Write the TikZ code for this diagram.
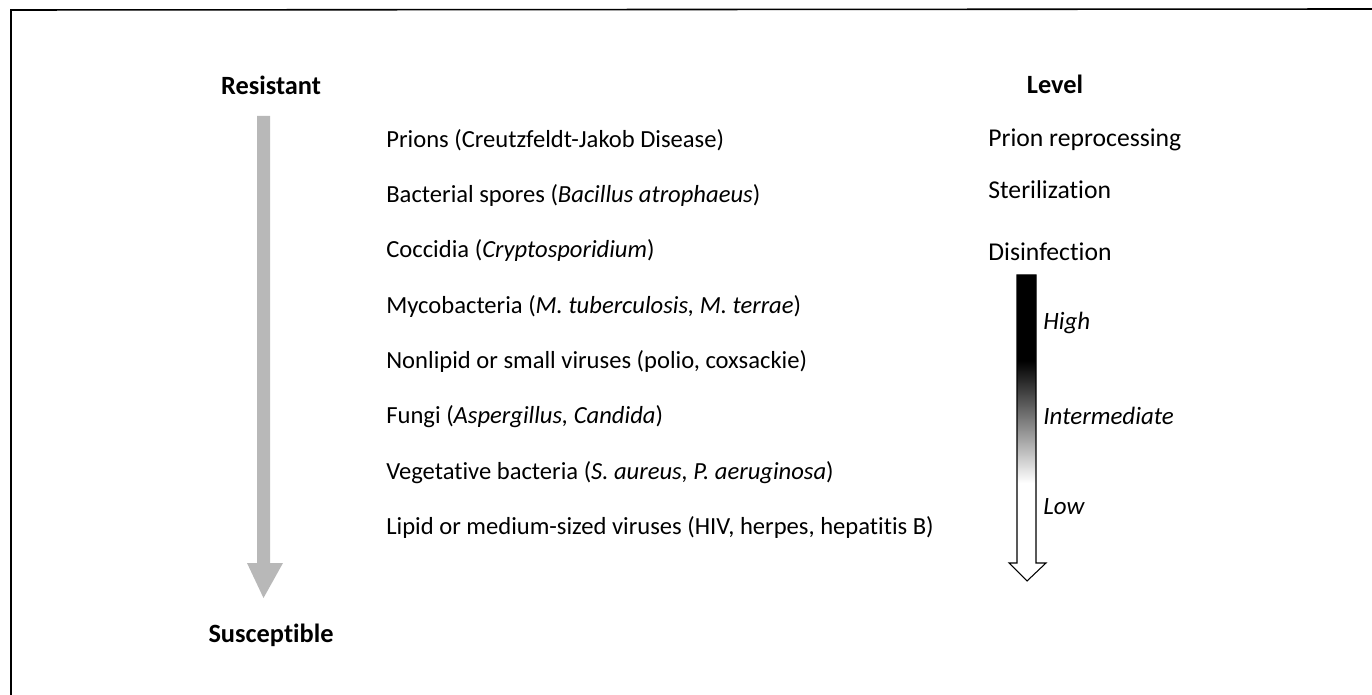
\documentclass[tikz,border=0pt]{standalone}
\usepackage{fontspec}
\setmainfont{Carlito}[Ligatures=NoCommon]
\usetikzlibrary{positioning}
\pgfdeclareverticalshading{levelshade}{100bp}{color(0bp)=(white); color(41bp)=(white);
  color(51bp)=(black!50); color(61bp)=(black); color(100bp)=(black)}

\begin{document}
\begin{tikzpicture}[x=0.02cm, y=-0.02cm,
  head/.style={font=\fontsize{15}{17}\selectfont\bfseries},
  item/.style={anchor=west, inner sep=0pt, font=\fontsize{14}{16}\selectfont},
  lvl/.style={anchor=west, inner sep=0pt, font=\fontsize{14.2}{16}\selectfont\itshape},
  grayarr/.style={fill=black!28, draw=none},
  levelarr/.style={draw=black, line width=0.6pt, shading=levelshade}
]
\useasboundingbox (0,0) rectangle (1372,695);
\draw[line width=0.9pt] (11,695) -- (11,10) -- (1372,9);

% resistance scale
\node[head] (res) at (271,85)  {Resistant};
\node[head] (sus) at (271,635) {Susceptible};
\fill[grayarr] (257,116) -- (270,116) -- (270,563) -- (283,563)
  -- (263.5,598) -- (247,563) -- (257,563) -- cycle;

\foreach \t [count=\k] in {{Prions (Creutzfeldt-Jakob Disease)},
  {Bacterial spores (\textit{Bacillus atrophaeus})},
  {Coccidia (\textit{Cryptosporidium})},
  {Mycobacteria (\textit{M. tuberculosis, M. terrae})},
  {Nonlipid or small viruses (polio, coxsackie)},
  {Fungi (\textit{Aspergillus, Candida})},
  {Vegetative bacteria (\textit{S. aureus, P. aeruginosa})},
  {Lipid or medium-sized viruses (HIV, herpes, hepatitis B)}}
  \node[item] (org\k) at (386,{140+(\k-1)*55.4}) {\t};

% level column
\node[head] (level) at (1055,84) {Level};
\node[item, font=\fontsize{14.6}{16}\selectfont] (prion) at (988,140) {Prion reprocessing};
\node[item, font=\fontsize{14.6}{16}\selectfont] (steri) at (988,190) {Sterilization};
\node[item, font=\fontsize{14.6}{16}\selectfont] (disin) at (988,252) {Disinfection};
\path[levelarr] (1017,275) -- (1036,275) -- (1036,563) -- (1046,563)
  -- (1027,581) -- (1009,563) -- (1017,563) -- cycle;
\node[lvl] (high) at (1043,323) {High};
\node[lvl] (inter) at (1043,416) {Intermediate};
\node[lvl] (low) at (1043,507) {Low};
\end{tikzpicture}
\end{document}
